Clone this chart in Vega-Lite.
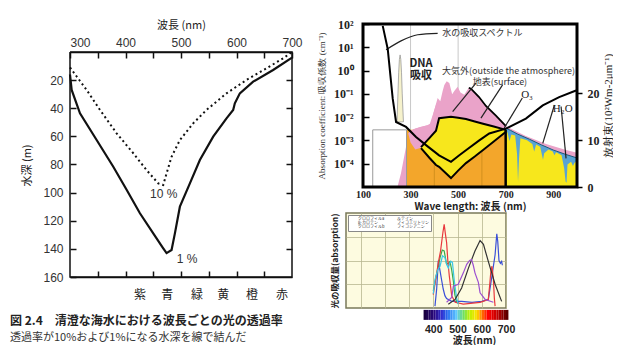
{
  "$schema": "https://vega.github.io/schema/vega-lite/v6.json",
  "background": "white",
  "padding": {"left": 10, "top": 0, "right": 0, "bottom": 0},
  "config": {"font": "Noto Sans CJK JP", "axis": {"labelOverlap": false, "labelFlush": false}},
  "datasets": {
    "frameL": [
      {"i": 0, "nm": 300, "depth": 0}, {"i": 1, "nm": 700, "depth": 0}, {"i": 2, "nm": 700, "depth": 160},
      {"i": 3, "nm": 300, "depth": 160}, {"i": 4, "nm": 300, "depth": 0}
    ],
    "solid1": [
      {"nm": 300, "depth": 16}, {"nm": 303, "depth": 27}, {"nm": 318, "depth": 43.6}, {"nm": 348, "depth": 62.6},
      {"nm": 378, "depth": 81.6}, {"nm": 402, "depth": 98}, {"nm": 426, "depth": 114.7}, {"nm": 450, "depth": 129},
      {"nm": 468, "depth": 139.6}, {"nm": 474, "depth": 143}, {"nm": 483, "depth": 140.8}, {"nm": 489, "depth": 129},
      {"nm": 498, "depth": 110}, {"nm": 516, "depth": 93.4}, {"nm": 534, "depth": 76.8}, {"nm": 558, "depth": 60.2},
      {"nm": 582, "depth": 47.2}, {"nm": 594, "depth": 41.2}, {"nm": 597, "depth": 36.5}, {"nm": 606, "depth": 29.4},
      {"nm": 630, "depth": 21.1}, {"nm": 666, "depth": 12.8}, {"nm": 700, "depth": 4}
    ],
    "dotted10": [
      {"nm": 300, "depth": 11}, {"nm": 330, "depth": 27}, {"nm": 354, "depth": 41.2}, {"nm": 384, "depth": 57.8},
      {"nm": 414, "depth": 72}, {"nm": 438, "depth": 84}, {"nm": 459, "depth": 93.4}, {"nm": 468, "depth": 94.6},
      {"nm": 474, "depth": 86.3}, {"nm": 483, "depth": 74.5}, {"nm": 498, "depth": 62.6}, {"nm": 522, "depth": 50.7},
      {"nm": 546, "depth": 41.2}, {"nm": 582, "depth": 29.4}, {"nm": 618, "depth": 19.9}, {"nm": 654, "depth": 11.6},
      {"nm": 684, "depth": 4.5}, {"nm": 700, "depth": 0}
    ],
    "pctLabels": [
      {"nm": 469, "depth": 101, "label": "10 %"},
      {"nm": 511, "depth": 147, "label": "1 %"}
    ],
    "colorNames": [
      {"nm": 426, "label": "紫"}, {"nm": 475, "label": "青"}, {"nm": 529, "label": "緑"},
      {"nm": 576, "label": "黄"}, {"nm": 628, "label": "橙"}, {"nm": 682, "label": "赤"}
    ],
    "frameR": [{"nm": 100, "nm2": 1000, "v": 0, "v2": 34.8}],
    "pink": [
      {"nm": 245, "v": 0}, {"nm": 260, "v": 3}, {"nm": 275, "v": 7}, {"nm": 290, "v": 11}, {"nm": 310, "v": 12.3},
      {"nm": 340, "v": 12.8}, {"nm": 370, "v": 13.2}, {"nm": 386, "v": 13.6}, {"nm": 400, "v": 16.5}, {"nm": 414, "v": 19},
      {"nm": 425, "v": 18.3}, {"nm": 435, "v": 20.5}, {"nm": 442, "v": 21.8}, {"nm": 452, "v": 22.6}, {"nm": 463, "v": 22.2},
      {"nm": 475, "v": 19.8}, {"nm": 484, "v": 20.5}, {"nm": 498, "v": 21.4}, {"nm": 510, "v": 20.2}, {"nm": 526, "v": 19.7},
      {"nm": 545, "v": 21.2}, {"nm": 554, "v": 21.0}, {"nm": 588, "v": 19.2}, {"nm": 617, "v": 17.3}, {"nm": 660, "v": 15.2},
      {"nm": 701, "v": 13.0}, {"nm": 785, "v": 10.9}, {"nm": 870, "v": 9.2}, {"nm": 954, "v": 7.9}, {"nm": 1000, "v": 7.3}
    ],
    "pinkTopLine": [
      {"nm": 545, "v": 21.2}, {"nm": 554, "v": 21.0}, {"nm": 588, "v": 19.2}, {"nm": 617, "v": 17.3}, {"nm": 660, "v": 15.2}, {"nm": 701, "v": 13.0}
    ],
    "pinkPatch": [
      {"nm": 290, "v": 11.5, "v2": 11.5}, {"nm": 300, "v": 12.0, "v2": 9.5}, {"nm": 320, "v": 12.5, "v2": 8.0},
      {"nm": 344, "v": 12.8, "v2": 8.4}, {"nm": 380, "v": 13.3, "v2": 10.3}, {"nm": 410, "v": 18, "v2": 12.0}
    ],
    "orange": [{"nm": 283, "nm2": 700, "v": 0, "v2": 12.2}],
    "inset": [{"nm": 141, "nm2": 283, "v": 0, "v2": 12.2}],
    "gridFull": [{"nm": 300}, {"nm": 500}],
    "gridOrange": [{"nm": 400, "v": 0, "v2": 12.2}, {"nm": 600, "v": 0, "v2": 12.2}],
    "edge700": [{"nm": 700, "v": 0, "v2": 12.2}],
    "yellowBand": [
      {"nm": 344, "v": 8.5, "v2": 8.3}, {"nm": 380, "v": 10.5, "v2": 6.2}, {"nm": 407, "v": 12.0, "v2": 4.7},
      {"nm": 420, "v": 14.7, "v2": 4.3}, {"nm": 470, "v": 15.0, "v2": 1.9}, {"nm": 500, "v": 14.8, "v2": 3.5},
      {"nm": 533, "v": 14.5, "v2": 5.1}, {"nm": 570, "v": 14.0, "v2": 6.5}, {"nm": 605, "v": 13.5, "v2": 7.9},
      {"nm": 650, "v": 12.9, "v2": 9.7}, {"nm": 701, "v": 12.2, "v2": 11.8}
    ],
    "blueBand": [
      {"nm": 700, "v": 12.6}, {"nm": 720, "v": 12.1}, {"nm": 750, "v": 11.3}, {"nm": 800, "v": 10.2},
      {"nm": 850, "v": 9.0}, {"nm": 900, "v": 7.9}, {"nm": 950, "v": 7.0}, {"nm": 1000, "v": 6.2}
    ],
    "yellowRight": [
      {"nm": 700, "v": 12.2}, {"nm": 708, "v": 11.6}, {"nm": 716, "v": 9.8}, {"nm": 724, "v": 11.2}, {"nm": 740, "v": 11.0},
      {"nm": 748, "v": 7}, {"nm": 752, "v": 1.1}, {"nm": 756, "v": 6}, {"nm": 762, "v": 10.4}, {"nm": 790, "v": 10.0},
      {"nm": 812, "v": 9.2}, {"nm": 820, "v": 7.6}, {"nm": 828, "v": 9.1}, {"nm": 845, "v": 8.6}, {"nm": 852, "v": 7},
      {"nm": 857, "v": 5.8}, {"nm": 862, "v": 7.2}, {"nm": 880, "v": 8.0}, {"nm": 898, "v": 7.6}, {"nm": 905, "v": 6.8},
      {"nm": 912, "v": 7.4}, {"nm": 935, "v": 6.8}, {"nm": 946, "v": 4}, {"nm": 952, "v": 1.2}, {"nm": 956, "v": 0.9},
      {"nm": 960, "v": 4.8}, {"nm": 975, "v": 5.4}, {"nm": 983, "v": 4.5}, {"nm": 990, "v": 5.2}, {"nm": 1000, "v": 5.6}
    ],
    "arrows": [
      {"id": "a1", "nm": 414, "v": 32.8}, {"id": "a1", "nm": 330, "v": 32.5}, {"id": "a1", "nm": 260, "v": 31.2}, {"id": "a1", "nm": 197, "v": 29.3},
      {"id": "a2", "nm": 575, "v": 22.2}, {"id": "a2", "nm": 477, "v": 16.1},
      {"id": "a3", "nm": 687, "v": 21.8}, {"id": "a3", "nm": 596, "v": 14.7},
      {"id": "a4", "nm": 770, "v": 19.0}, {"id": "a4", "nm": 694, "v": 12.6},
      {"id": "a5", "nm": 905, "v": 17.5}, {"id": "a5", "nm": 856, "v": 9.3},
      {"id": "a6", "nm": 933, "v": 17.2}, {"id": "a6", "nm": 954, "v": 6.1}
    ],
    "notesSans": [
      {"nm": 602, "v": 32.8, "label": "水の吸収スペクトル"},
      {"nm": 712, "v": 24.8, "label": "大気外(outside the atmosphere)"},
      {"nm": 676, "v": 22.4, "label": "地表(surface)"}
    ],
    "notesBold": [
      {"nm": 344, "v": 26.3, "label": "DNA"},
      {"nm": 344, "v": 23.6, "label": "吸収"}
    ],
    "notesSerif": [
      {"nm": 790, "v": 19.6, "label": "O₃"},
      {"nm": 940, "v": 16.7, "label": "H₂O"}
    ],
    "water": [
      {"nm": 183, "a": 83}, {"nm": 204, "a": 8.5}, {"nm": 225, "a": 0.062}, {"nm": 239, "a": 0.0062},
      {"nm": 281, "a": 0.0038}, {"nm": 323, "a": 0.0014}, {"nm": 365, "a": 0.00063}, {"nm": 420, "a": 0.00023},
      {"nm": 470, "a": 0.00012}, {"nm": 505, "a": 0.00023}, {"nm": 533, "a": 0.00038}, {"nm": 589, "a": 0.001},
      {"nm": 631, "a": 0.002}, {"nm": 701, "a": 0.0032}, {"nm": 785, "a": 0.0087}, {"nm": 856, "a": 0.032},
      {"nm": 925, "a": 0.072}, {"nm": 996, "a": 0.14}
    ],
    "dna": [
      {"nm": 243, "a": 0.0063, "a2": 0.0063}, {"nm": 247, "a": 0.1, "a2": 0.0063}, {"nm": 250, "a": 0.8, "a2": 0.0063},
      {"nm": 253, "a": 3, "a2": 0.0063}, {"nm": 256, "a": 4.7, "a2": 0.0063}, {"nm": 259, "a": 3, "a2": 0.0063},
      {"nm": 262, "a": 0.8, "a2": 0.0063}, {"nm": 265, "a": 0.1, "a2": 0.0063}, {"nm": 270, "a": 0.0063, "a2": 0.0063}
    ],
    "pigments": [
      {"p": "クロロフィルa", "nm": 407, "v": 0.02}, {"p": "クロロフィルa", "nm": 414, "v": 0.2}, {"p": "クロロフィルa", "nm": 421, "v": 0.5},
      {"p": "クロロフィルa", "nm": 426, "v": 0.42}, {"p": "クロロフィルa", "nm": 434, "v": 0.3}, {"p": "クロロフィルa", "nm": 441, "v": 0.2},
      {"p": "クロロフィルa", "nm": 448, "v": 0.13}, {"p": "クロロフィルa", "nm": 455, "v": 0.1}, {"p": "クロロフィルa", "nm": 476, "v": 0.07},
      {"p": "クロロフィルa", "nm": 517, "v": 0.07}, {"p": "クロロフィルa", "nm": 560, "v": 0.06}, {"p": "クロロフィルa", "nm": 600, "v": 0.07},
      {"p": "クロロフィルa", "nm": 627, "v": 0.09}, {"p": "クロロフィルa", "nm": 641, "v": 0.32}, {"p": "クロロフィルa", "nm": 655, "v": 0.56},
      {"p": "クロロフィルa", "nm": 662, "v": 0.78}, {"p": "クロロフィルa", "nm": 666, "v": 0.7}, {"p": "クロロフィルa", "nm": 671, "v": 0.5},
      {"p": "クロロフィルa", "nm": 677, "v": 0.47}, {"p": "クロロフィルa", "nm": 682, "v": 0.49}, {"p": "クロロフィルa", "nm": 685, "v": 0.45},
      {"p": "β-カロテン", "nm": 400, "v": 0.18}, {"p": "β-カロテン", "nm": 414, "v": 0.36}, {"p": "β-カロテン", "nm": 428, "v": 0.53},
      {"p": "β-カロテン", "nm": 437, "v": 0.61}, {"p": "β-カロテン", "nm": 445, "v": 0.6}, {"p": "β-カロテン", "nm": 455, "v": 0.46},
      {"p": "β-カロテン", "nm": 462, "v": 0.47}, {"p": "β-カロテン", "nm": 469, "v": 0.49}, {"p": "β-カロテン", "nm": 476, "v": 0.4},
      {"p": "β-カロテン", "nm": 483, "v": 0.28}, {"p": "β-カロテン", "nm": 489, "v": 0.14}, {"p": "β-カロテン", "nm": 496, "v": 0.07},
      {"p": "β-カロテン", "nm": 503, "v": 0.05},
      {"p": "クロロフィルb", "nm": 400, "v": 0.14}, {"p": "クロロフィルb", "nm": 410, "v": 0.3}, {"p": "クロロフィルb", "nm": 421, "v": 0.48},
      {"p": "クロロフィルb", "nm": 430, "v": 0.6}, {"p": "クロロフィルb", "nm": 440, "v": 0.8}, {"p": "クロロフィルb", "nm": 445, "v": 0.88},
      {"p": "クロロフィルb", "nm": 450, "v": 0.78}, {"p": "クロロフィルb", "nm": 455, "v": 0.69}, {"p": "クロロフィルb", "nm": 460, "v": 0.5},
      {"p": "クロロフィルb", "nm": 466, "v": 0.34}, {"p": "クロロフィルb", "nm": 476, "v": 0.13}, {"p": "クロロフィルb", "nm": 490, "v": 0.06},
      {"p": "クロロフィルb", "nm": 524, "v": 0.04}, {"p": "クロロフィルb", "nm": 593, "v": 0.06}, {"p": "クロロフィルb", "nm": 627, "v": 0.09},
      {"p": "クロロフィルb", "nm": 633, "v": 0.25}, {"p": "クロロフィルb", "nm": 637, "v": 0.37}, {"p": "クロロフィルb", "nm": 642, "v": 0.44},
      {"p": "クロロフィルb", "nm": 648, "v": 0.3}, {"p": "クロロフィルb", "nm": 652, "v": 0.1}, {"p": "クロロフィルb", "nm": 655, "v": 0.02},
      {"p": "ルテイン", "nm": 400, "v": 0.15}, {"p": "ルテイン", "nm": 407, "v": 0.3}, {"p": "ルテイン", "nm": 418, "v": 0.4},
      {"p": "ルテイン", "nm": 428, "v": 0.44}, {"p": "ルテイン", "nm": 438, "v": 0.55}, {"p": "ルテイン", "nm": 448, "v": 0.53},
      {"p": "ルテイン", "nm": 455, "v": 0.46}, {"p": "ルテイン", "nm": 462, "v": 0.42}, {"p": "ルテイン", "nm": 468, "v": 0.47},
      {"p": "ルテイン", "nm": 473, "v": 0.49}, {"p": "ルテイン", "nm": 479, "v": 0.48}, {"p": "ルテイン", "nm": 487, "v": 0.28},
      {"p": "ルテイン", "nm": 496, "v": 0.11}, {"p": "ルテイン", "nm": 503, "v": 0.04},
      {"p": "フィコエリトリン", "nm": 462, "v": 0.04}, {"p": "フィコエリトリン", "nm": 490, "v": 0.09}, {"p": "フィコエリトリン", "nm": 517, "v": 0.21},
      {"p": "フィコエリトリン", "nm": 545, "v": 0.42}, {"p": "フィコエリトリン", "nm": 572, "v": 0.6}, {"p": "フィコエリトリン", "nm": 593, "v": 0.71},
      {"p": "フィコエリトリン", "nm": 607, "v": 0.67}, {"p": "フィコエリトリン", "nm": 627, "v": 0.49}, {"p": "フィコエリトリン", "nm": 655, "v": 0.25},
      {"p": "フィコエリトリン", "nm": 682, "v": 0.07},
      {"p": "フィコシアニン", "nm": 455, "v": 0.06}, {"p": "フィコシアニン", "nm": 476, "v": 0.11}, {"p": "フィコシアニン", "nm": 483, "v": 0.23},
      {"p": "フィコシアニン", "nm": 503, "v": 0.25}, {"p": "フィコシアニン", "nm": 524, "v": 0.37}, {"p": "フィコシアニン", "nm": 538, "v": 0.46},
      {"p": "フィコシアニン", "nm": 550, "v": 0.5}, {"p": "フィコシアニン", "nm": 558, "v": 0.51}, {"p": "フィコシアニン", "nm": 565, "v": 0.45},
      {"p": "フィコシアニン", "nm": 572, "v": 0.37}, {"p": "フィコシアニン", "nm": 586, "v": 0.27}, {"p": "フィコシアニン", "nm": 593, "v": 0.16},
      {"p": "フィコシアニン", "nm": 614, "v": 0.09}, {"p": "フィコシアニン", "nm": 648, "v": 0.06}
    ],
    "colorbar": [
      {"c0": 360, "c1": 370}, {"c0": 370, "c1": 380}, {"c0": 380, "c1": 390}, {"c0": 390, "c1": 400}, {"c0": 400, "c1": 410},
      {"c0": 410, "c1": 420}, {"c0": 420, "c1": 430}, {"c0": 430, "c1": 440}, {"c0": 440, "c1": 450}, {"c0": 450, "c1": 460},
      {"c0": 460, "c1": 470}, {"c0": 470, "c1": 480}, {"c0": 480, "c1": 490}, {"c0": 490, "c1": 500}, {"c0": 500, "c1": 510},
      {"c0": 510, "c1": 520}, {"c0": 520, "c1": 530}, {"c0": 530, "c1": 540}, {"c0": 540, "c1": 550}, {"c0": 550, "c1": 560},
      {"c0": 560, "c1": 570}, {"c0": 570, "c1": 580}, {"c0": 580, "c1": 590}, {"c0": 590, "c1": 600}, {"c0": 600, "c1": 610},
      {"c0": 610, "c1": 620}, {"c0": 620, "c1": 630}, {"c0": 630, "c1": 640}, {"c0": 640, "c1": 650}, {"c0": 650, "c1": 660},
      {"c0": 660, "c1": 670}, {"c0": 670, "c1": 680}, {"c0": 680, "c1": 690}, {"c0": 690, "c1": 700}, {"c0": 700, "c1": 710}
    ]
  },
  "spacing": 13,
  "hconcat": [
    {
      "width": 222,
      "height": 253,
      "view": {"stroke": null},
      "title": {
        "text": "図 2.4　清澄な海水における波長ごとの光の透過率",
        "subtitle": "透過率が10%および1%になる水深を線で結んだ",
        "orient": "bottom", "anchor": "start", "frame": "bounds",
        "fontSize": 12, "fontWeight": "bold", "color": "#222",
        "subtitleFontSize": 11, "subtitleColor": "#333", "subtitlePadding": 4,
        "offset": 15
      },
      "resolve": {"axis": {"x": "independent", "y": "independent"}},
      "layer": [
        {
          "data": {"name": "solid1"},
          "mark": {"type": "line", "color": "#111", "strokeWidth": 2.2},
          "encoding": {
            "x": {"field": "nm", "type": "quantitative",
                  "scale": {"domain": [300, 700], "nice": false},
                  "axis": {"orient": "top", "offset": -28, "title": "波長 (nm)", "titleFontSize": 11, "titleFontWeight": "normal", "titleColor": "#222",
                           "titlePadding": -30.5, "minExtent": 52, "maxExtent": 52,
                           "values": [300, 350, 400, 450, 500, 550, 600, 650, 700],
                           "labelExpr": "datum.value % 100 === 0 ? datum.label : ''",
                           "labelAlign": {"condition": {"test": "datum.value == 300", "value": "left"}, "value": "center"},
                           "labelFont": "Liberation Sans", "labelFontSize": 12, "labelColor": "#333", "labelFlush": false,
                           "tickSize": -6, "labelPadding": 9, "tickColor": "#111", "tickWidth": 1.5,
                           "domain": true, "domainColor": "#111", "domainWidth": 1.5, "grid": false}},
            "y": {"field": "depth", "type": "quantitative",
                  "scale": {"domain": [-19.91, 160], "reverse": true, "nice": false, "zero": false},
                  "axis": {"orient": "left", "title": "水深 (m)", "titleFontSize": 11, "titleFontWeight": "normal", "titleColor": "#222",
                           "titlePadding": -22, "titleY": 141, "minExtent": 60, "maxExtent": 60,
                           "values": [20, 40, 60, 80, 100, 120, 140, 160],
                           "labelFont": "Liberation Sans", "labelFontSize": 12, "labelColor": "#333",
                           "tickSize": -6, "labelPadding": 13, "tickColor": "#111", "tickWidth": 1.5,
                           "domain": false, "grid": false}}
          }
        },
        {
          "data": {"name": "dotted10"},
          "mark": {"type": "line", "color": "#111", "strokeWidth": 2, "strokeDash": [2, 3]},
          "encoding": {
            "x": {"field": "nm", "type": "quantitative",
                  "axis": {"orient": "bottom", "title": null, "labels": false, "values": [350, 400, 450, 500, 550, 600, 650],
                           "tickSize": -6, "tickColor": "#111", "tickWidth": 1.5, "domain": true, "domainColor": "#111", "domainWidth": 1.5,
                           "grid": false, "minExtent": 0, "maxExtent": 0}},
            "y": {"field": "depth", "type": "quantitative",
                  "axis": {"orient": "right", "title": null, "labels": false, "values": [20, 40, 60, 80, 100, 120, 140],
                           "tickSize": -6, "tickColor": "#111", "tickWidth": 1.5, "domain": false,
                           "grid": false, "minExtent": 0, "maxExtent": 0}}
          }
        },
        {
          "data": {"name": "frameL"},
          "mark": {"type": "line", "color": "#111", "strokeWidth": 1.5},
          "encoding": {
            "x": {"field": "nm", "type": "quantitative", "axis": null},
            "y": {"field": "depth", "type": "quantitative", "axis": null},
            "order": {"field": "i", "type": "quantitative"}
          }
        },
        {
          "data": {"name": "pctLabels"},
          "mark": {"type": "text", "font": "Liberation Sans", "fontSize": 12, "color": "#333"},
          "encoding": {
            "x": {"field": "nm", "type": "quantitative", "axis": null},
            "y": {"field": "depth", "type": "quantitative", "axis": null},
            "text": {"field": "label"}
          }
        },
        {
          "data": {"name": "colorNames"},
          "mark": {"type": "text", "fontSize": 12, "color": "#222"},
          "encoding": {
            "x": {"field": "nm", "type": "quantitative", "axis": null},
            "y": {"datum": 173, "type": "quantitative", "axis": null},
            "text": {"field": "label"}
          }
        }
      ]
    },
    {
      "spacing": 1,
      "vconcat": [
        {
          "width": 231,
          "height": 163,
          "view": {"stroke": null},
          "resolve": {"scale": {"y": "independent"}},
          "layer": [
            {
              "layer": [
                {
                  "data": {"name": "gridFull"},
                  "mark": {"type": "rule", "color": "#c8c8c8", "strokeWidth": 1},
                  "encoding": {
                    "x": {"field": "nm", "type": "quantitative",
                          "scale": {"domain": [28.5, 1000], "nice": false, "zero": false},
                          "axis": {"orient": "bottom", "title": "Wave length: 波長 (nm)", "titleFontSize": 10, "titleFontWeight": "bold",
                                   "titleColor": "#222", "titlePadding": 2, "titleX": 124, "minExtent": 12, "maxExtent": 12,
                                   "values": [100, 200, 300, 400, 500, 600, 700, 800, 900, 1000],
                                   "labelFont": "Liberation Serif", "labelFontWeight": "bold", "labelFontSize": 10, "labelColor": "#222",
                                   "labelFlush": false,
                                   "ticks": false, "labelPadding": 2, "domain": false, "grid": false}}
                  }
                },
                {
                  "data": {"name": "pink"},
                  "mark": {"type": "area", "color": "#eaa3c9"},
                  "encoding": {
                    "x": {"field": "nm", "type": "quantitative"},
                    "y": {"field": "v", "type": "quantitative", "stack": null,
                          "scale": {"domain": [0, 34.8], "nice": false},
                          "axis": {"orient": "right", "title": "放射束(10²Wm-2μm⁻¹)", "titleFont": "Liberation Serif",
                                   "titleFontSize": 11, "titleFontWeight": "normal", "titleColor": "#222", "titleAngle": 270,
                                   "titleBaseline": "top", "titlePadding": 3,
                                   "values": [0, 5, 10, 15, 20, 25], "labelFont": "Liberation Serif", "labelFontWeight": "bold",
                                   "labelFontSize": 12, "labelColor": "#222", "tickSize": 5, "tickColor": "#000", "tickWidth": 1.5,
                                   "labelPadding": 5, "labelOverlap": false, "domain": false, "grid": false}}
                  }
                },
                {
                  "data": {"name": "orange"},
                  "mark": {"type": "rect", "color": "#f3a62b"},
                  "encoding": {
                    "x": {"field": "nm", "type": "quantitative"},
                    "x2": {"field": "nm2"},
                    "y": {"field": "v", "type": "quantitative"},
                    "y2": {"field": "v2"}
                  }
                },
                {
                  "data": {"name": "gridOrange"},
                  "mark": {"type": "rule", "color": "#c98a1a", "strokeWidth": 0.8},
                  "encoding": {
                    "x": {"field": "nm", "type": "quantitative"},
                    "y": {"field": "v", "type": "quantitative"},
                    "y2": {"field": "v2"}
                  }
                },
                {
                  "data": {"name": "inset"},
                  "mark": {"type": "rect", "fill": null, "fillOpacity": 0, "stroke": "#9a9a9a", "strokeWidth": 1},
                  "encoding": {
                    "x": {"field": "nm", "type": "quantitative"},
                    "x2": {"field": "nm2"},
                    "y": {"field": "v", "type": "quantitative"},
                    "y2": {"field": "v2"}
                  }
                },
                {
                  "data": {"name": "pinkPatch"},
                  "mark": {"type": "area", "color": "#eaa3c9"},
                  "encoding": {
                    "x": {"field": "nm", "type": "quantitative"},
                    "y": {"field": "v", "type": "quantitative", "stack": null},
                    "y2": {"field": "v2"}
                  }
                },
                {
                  "data": {"name": "yellowBand"},
                  "mark": {"type": "area", "color": "#f7e71c"},
                  "encoding": {
                    "x": {"field": "nm", "type": "quantitative"},
                    "y": {"field": "v", "type": "quantitative", "stack": null},
                    "y2": {"field": "v2"}
                  }
                },
                {
                  "data": {"name": "blueBand"},
                  "mark": {"type": "area", "color": "#1ba3d9", "line": {"color": "#1d5a7a", "strokeWidth": 1}},
                  "encoding": {
                    "x": {"field": "nm", "type": "quantitative"},
                    "y": {"field": "v", "type": "quantitative", "stack": null}
                  }
                },
                {
                  "data": {"name": "yellowRight"},
                  "mark": {"type": "area", "color": "#f7e71c"},
                  "encoding": {
                    "x": {"field": "nm", "type": "quantitative"},
                    "y": {"field": "v", "type": "quantitative", "stack": null}
                  }
                },
                {
                  "data": {"name": "edge700"},
                  "mark": {"type": "rule", "color": "#000", "strokeWidth": 2.5},
                  "encoding": {
                    "x": {"field": "nm", "type": "quantitative"},
                    "y": {"field": "v", "type": "quantitative"},
                    "y2": {"field": "v2"}
                  }
                },
                {
                  "data": {"name": "yellowBand"},
                  "mark": {"type": "line", "color": "#000", "strokeWidth": 2},
                  "encoding": {
                    "x": {"field": "nm", "type": "quantitative"},
                    "y": {"field": "v", "type": "quantitative"}
                  }
                },
                {
                  "data": {"name": "yellowBand"},
                  "mark": {"type": "line", "color": "#000", "strokeWidth": 2},
                  "encoding": {
                    "x": {"field": "nm", "type": "quantitative"},
                    "y": {"field": "v2", "type": "quantitative"}
                  }
                },
                {
                  "data": {"name": "pinkTopLine"},
                  "mark": {"type": "line", "color": "#000", "strokeWidth": 1.8},
                  "encoding": {
                    "x": {"field": "nm", "type": "quantitative"},
                    "y": {"field": "v", "type": "quantitative"}
                  }
                },
                {
                  "data": {"name": "arrows"},
                  "mark": {"type": "line", "color": "#222", "strokeWidth": 1.2, "interpolate": "monotone"},
                  "encoding": {
                    "x": {"field": "nm", "type": "quantitative"},
                    "y": {"field": "v", "type": "quantitative"},
                    "detail": {"field": "id"},
                    "order": {"value": 0}
                  }
                },
                {
                  "data": {"name": "notesSans"},
                  "mark": {"type": "text", "fontSize": 9, "color": "#333"},
                  "encoding": {
                    "x": {"field": "nm", "type": "quantitative"},
                    "y": {"field": "v", "type": "quantitative"},
                    "text": {"field": "label"}
                  }
                },
                {
                  "data": {"name": "notesBold"},
                  "mark": {"type": "text", "fontSize": 11, "fontWeight": "bold", "color": "#222"},
                  "encoding": {
                    "x": {"field": "nm", "type": "quantitative"},
                    "y": {"field": "v", "type": "quantitative"},
                    "text": {"field": "label"}
                  }
                },
                {
                  "data": {"name": "notesSerif"},
                  "mark": {"type": "text", "font": "Liberation Serif", "fontSize": 11, "color": "#222"},
                  "encoding": {
                    "x": {"field": "nm", "type": "quantitative"},
                    "y": {"field": "v", "type": "quantitative"},
                    "text": {"field": "label"}
                  }
                },
                {
                  "data": {"name": "frameR"},
                  "mark": {"type": "rect", "fill": null, "fillOpacity": 0, "stroke": "#000", "strokeWidth": 3},
                  "encoding": {
                    "x": {"field": "nm", "type": "quantitative"},
                    "x2": {"field": "nm2"},
                    "y": {"field": "v", "type": "quantitative"},
                    "y2": {"field": "v2"}
                  }
                }
              ]
            },
            {
              "layer": [
                {
                  "data": {"name": "dna"},
                  "mark": {"type": "area", "color": "#f6f2cc", "stroke": "#999", "strokeWidth": 0.8},
                  "encoding": {
                    "x": {"field": "nm", "type": "quantitative"},
                    "y": {"field": "a", "type": "quantitative", "stack": null,
                          "scale": {"type": "log", "domain": [0.00001, 100], "nice": false},
                          "axis": {"orient": "left", "offset": -17, "title": "Absorption coefficient: 吸収係数 (cm⁻¹)", "titleFont": "Liberation Serif",
                                   "titleFontSize": 9, "titleFontWeight": "normal", "titleColor": "#333",
                                   "titlePadding": 1, "minExtent": 36, "maxExtent": 36,
                                   "values": [0.0001, 0.001, 0.01, 0.1, 1, 10, 100],
                                   "labelExpr": "'10' + (datum.value >= 100 ? '²' : datum.value >= 10 ? '¹' : datum.value >= 1 ? '⁰' : datum.value >= 0.1 ? '⁻¹' : datum.value >= 0.01 ? '⁻²' : datum.value >= 0.001 ? '⁻³' : '⁻⁴')",
                                   "labelFont": "Liberation Serif", "labelFontWeight": "bold", "labelFontSize": 12, "labelColor": "#222",
                                   "tickSize": -6, "labelPadding": 16, "tickColor": "#000", "tickWidth": 1.5, "domain": false, "grid": false}},
                    "y2": {"field": "a2"}
                  }
                },
                {
                  "data": {"name": "water"},
                  "mark": {"type": "line", "color": "#000", "strokeWidth": 2},
                  "encoding": {
                    "x": {"field": "nm", "type": "quantitative"},
                    "y": {"field": "a", "type": "quantitative"}
                  }
                }
              ]
            }
          ]
        },
        {
          "width": 160,
          "height": 95,
          "view": {"fill": "#fdfbe0", "stroke": "#7a7a5a", "strokeWidth": 1.5},
          "resolve": {"scale": {"color": "independent"}},
          "layer": [
            {
              "data": {"name": "pigments"},
              "mark": {"type": "line", "strokeWidth": 1.2},
              "encoding": {
                "x": {"field": "nm", "type": "quantitative",
                      "scale": {"domain": [40, 700], "nice": false},
                      "axis": {"orient": "bottom", "title": "波長(nm)", "titleFontSize": 10, "titleFontWeight": "bold", "titleColor": "#222",
                               "titlePadding": 0, "titleX": 128, "minExtent": 27, "maxExtent": 27,
                               "values": [100, 200, 300, 400, 500, 600, 700],
                               "labelExpr": "datum.value >= 400 ? datum.label : ''",
                               "labelFont": "Liberation Sans", "labelFontSize": 10.5, "labelFontWeight": "bold", "labelColor": "#222", "labelPadding": 16,
                               "labelOverlap": false, "labelFlush": false,
                               "ticks": false, "domain": false, "grid": true, "gridColor": "#b8b890", "gridWidth": 0.8}},
                "y": {"field": "v", "type": "quantitative",
                      "scale": {"domain": [0, 1], "nice": false},
                      "axis": {"orient": "left", "title": "光の吸収量(absorption)", "titleFontSize": 8.5, "titleFontWeight": "bold",
                               "titleColor": "#222", "titlePadding": -22, "minExtent": 29, "maxExtent": 29,
                               "values": [0.25, 0.5, 0.75], "labels": false, "ticks": false, "domain": false,
                               "grid": true, "gridColor": "#b8b890", "gridWidth": 0.8}},
                "color": {"field": "p", "type": "nominal",
                          "scale": {"domain": ["クロロフィルa", "β-カロテン", "クロロフィルb", "ルテイン", "フィコエリトリン", "フィコシアニン"],
                                    "range": ["#3a4fd8", "#3aaa4a", "#e8383d", "#3cc8e8", "#333333", "#9b4fd0"]},
                          "legend": {"orient": "top-left", "title": null, "columns": 2, "symbolType": "square", "symbolSize": 10,
                                     "labelFontSize": 4, "labelColor": "#333", "padding": 2, "offset": 2, "rowPadding": 0,
                                     "columnPadding": 4, "fillColor": "white", "strokeColor": "#888", "labelLimit": 40,
                                     "symbolStrokeWidth": 0}}
              }
            },
            {
              "data": {"name": "colorbar"},
              "mark": {"type": "rect"},
              "encoding": {
                "x": {"field": "c0", "type": "quantitative",
                      "axis": {"orient": "bottom", "title": "波長(nm)", "titleFontSize": 10, "titleFontWeight": "bold", "titleColor": "#222",
                               "titlePadding": 0, "titleX": 128, "minExtent": 27, "maxExtent": 27,
                               "values": [100, 200, 300, 400, 500, 600, 700],
                               "labelExpr": "datum.value >= 400 ? datum.label : ''",
                               "labelFont": "Liberation Sans", "labelFontSize": 10.5, "labelFontWeight": "bold", "labelColor": "#222", "labelPadding": 16,
                               "labelOverlap": false, "labelFlush": false,
                               "ticks": false, "domain": false, "grid": true, "gridColor": "#b8b890", "gridWidth": 0.8}},
                "x2": {"field": "c1"},
                "y": {"datum": -0.02, "type": "quantitative"},
                "y2": {"datum": -0.125},
                "color": {"field": "c0", "type": "quantitative", "legend": null,
                          "scale": {"type": "linear", "interpolate": "rgb",
                                    "domain": [360, 400, 430, 455, 490, 520, 545, 575, 600, 620, 660, 710],
                                    "range": ["#1a0040", "#2a0a80", "#3030d0", "#2a70f0", "#60c8ff", "#70e060", "#c0f000", "#ffe000", "#ff6000", "#ff0000", "#c00000", "#400000"]}}
              }
            }
          ]
        }
      ]
    }
  ]
}
